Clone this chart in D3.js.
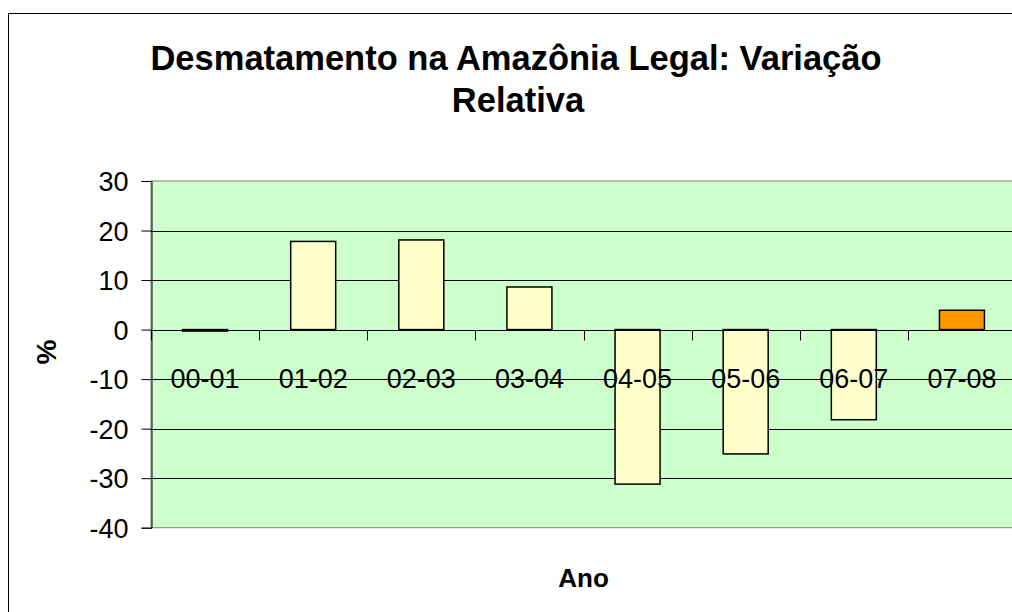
<!DOCTYPE html>
<html>
<head>
<meta charset="utf-8">
<script src="https://cdn.jsdelivr.net/npm/d3@7"></script>
<style>
  body { margin: 0; background: #fff; }
  text { font-family: "Liberation Sans", Arial, sans-serif; fill: #000; }
</style>
</head>
<body>
<div id="chart"></div>
<script>
// data
const categories = ["00-01", "01-02", "02-03", "03-04", "04-05", "05-06", "06-07", "07-08"];
const values = [-0.3, 17.8, 18.1, 8.6, -31.2, -25.1, -18.2, 3.9];
const yTicks = [30, 20, 10, 0, -10, -20, -30, -40];
const highlight = "07-08";

const data = categories.map((c, i) => ({ cat: c, value: values[i] }));

/** CONSTANTS */
const width = 1012,
    height = 612,
    plot = { left: 151, right: 1016, top: 181, bottom: 527.7 };

/** SCALES */
const xScale = d3.scaleBand()
    .domain(categories)
    .range([plot.left, plot.right])
    .paddingInner(0.584)
    .paddingOuter(0.292);

const yScale = d3.scaleLinear()
    .domain([-40, 30])
    .range([plot.bottom, plot.top]);

const step = xScale.step();

/** MAIN CODE */
const svg = d3.select("#chart")
    .append("svg")
    .attr("width", width)
    .attr("height", height);

// chart area border
svg.append("rect")
    .attr("x", 8.5).attr("y", 13.5)
    .attr("width", 1020).attr("height", 620)
    .attr("fill", "#fff")
    .attr("stroke", "#000");

// plot background
svg.append("rect")
    .attr("x", plot.left).attr("y", plot.top)
    .attr("width", plot.right - plot.left)
    .attr("height", plot.bottom - plot.top)
    .attr("fill", "#CCFFCC")
    .attr("stroke", "#808080");

// gridlines
svg.append("g")
    .selectAll("line")
    .data(yTicks.filter(t => t !== 0 && t !== -40 && t !== 30))
    .join("line")
    .attr("x1", plot.left).attr("x2", plot.right)
    .attr("y1", d => Math.round(yScale(d)) + 0.5)
    .attr("y2", d => Math.round(yScale(d)) + 0.5)
    .attr("stroke", "#000")
    .attr("stroke-width", 1);

// y axis
const yAxis = d3.axisLeft(yScale)
    .tickValues(yTicks)
    .tickSize(10)
    .tickPadding(13)
    .tickFormat(d => String(d));

const gy = svg.append("g")
    .attr("transform", `translate(${plot.left + 0.5},0)`)
    .call(yAxis);
gy.select(".domain").attr("stroke", "#000");
gy.selectAll(".tick line").attr("stroke", "#000");
gy.selectAll(".tick text")
    .attr("font-size", 27)
    .attr("font-family", "Liberation Sans, Arial, sans-serif")
    .attr("fill", "#000")
    .attr("dy", "0.36em");

// bars
svg.append("g")
    .selectAll("rect")
    .data(data)
    .join("rect")
    .attr("x", d => xScale(d.cat))
    .attr("width", xScale.bandwidth())
    .attr("y", d => yScale(Math.max(0, d.value)))
    .attr("height", d => Math.abs(yScale(d.value) - yScale(0)))
    .attr("fill", d => d.cat === highlight ? "#FF9900" : "#FFFFCC")
    .attr("stroke", "#000")
    .attr("stroke-width", 1.5);

// category axis at zero
const y0 = Math.round(yScale(0)) + 0.5;
svg.append("line")
    .attr("x1", plot.left).attr("x2", plot.right)
    .attr("y1", y0).attr("y2", y0)
    .attr("stroke", "#000");

svg.append("g")
    .selectAll("line")
    .data(d3.range(categories.length + 1))
    .join("line")
    .attr("x1", i => Math.round(plot.left + i * step) + 0.5)
    .attr("x2", i => Math.round(plot.left + i * step) + 0.5)
    .attr("y1", y0).attr("y2", y0 + 10)
    .attr("stroke", "#000");

svg.append("g")
    .selectAll("text")
    .data(categories)
    .join("text")
    .attr("x", d => xScale(d) + xScale.bandwidth() / 2)
    .attr("y", y0 + 57)
    .attr("text-anchor", "middle")
    .attr("font-size", 27)
    .text(d => d);

// titles
const title = svg.append("text")
    .attr("text-anchor", "middle")
    .attr("font-size", 34.5)
    .attr("font-weight", "bold");
title.append("tspan").attr("x", 516).attr("y", 70).text("Desmatamento na Amazônia Legal: Variação");
title.append("tspan").attr("x", 518).attr("y", 112).text("Relativa");

svg.append("text")
    .attr("x", (plot.left + plot.right) / 2)
    .attr("y", 587)
    .attr("text-anchor", "middle")
    .attr("font-size", 26)
    .attr("font-weight", "bold")
    .text("Ano");

svg.append("text")
    .attr("transform", `translate(56,352) rotate(-90)`)
    .attr("text-anchor", "middle")
    .attr("font-size", 28)
    .attr("font-weight", "bold")
    .text("%");
</script>
</body>
</html>
